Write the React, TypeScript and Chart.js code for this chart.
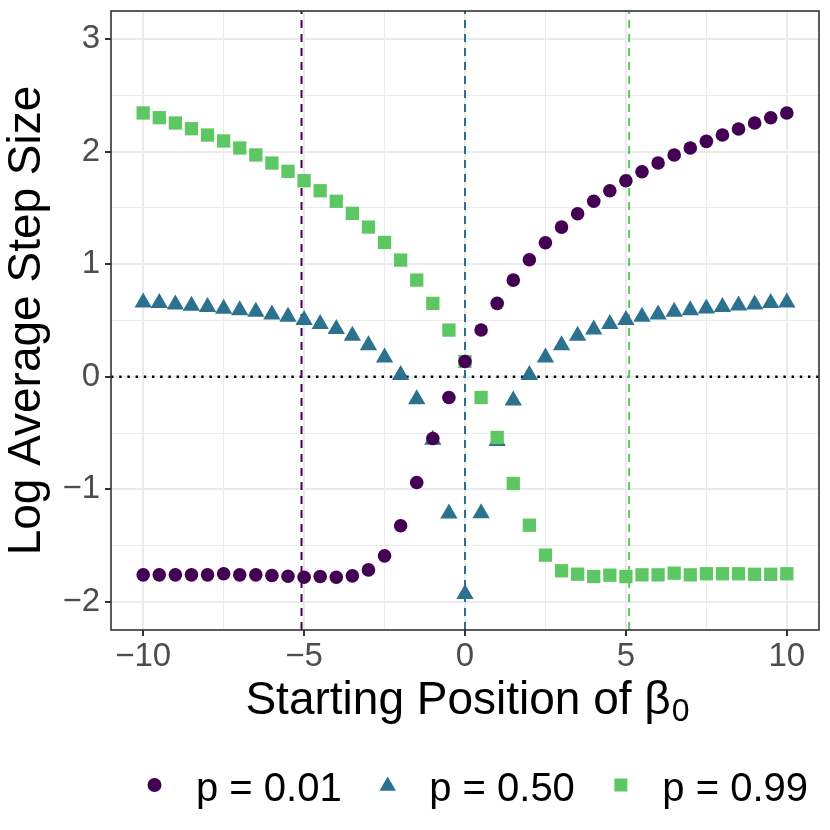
import React, { useEffect, useRef } from 'react';
import { Chart, registerables } from 'chart.js';

Chart.register(...registerables);

const xValues = [-10, -9.5, -9, -8.5, -8, -7.5, -7, -6.5, -6, -5.5, -5, -4.5, -4, -3.5, -3, -2.5, -2, -1.5, -1, -0.5, 0, 0.5, 1, 1.5, 2, 2.5, 3, 3.5, 4, 4.5, 5, 5.5, 6, 6.5, 7, 7.5, 8, 8.5, 9, 9.5, 10];

const p01 = [-1.76, -1.76, -1.76, -1.76, -1.76, -1.75, -1.76, -1.76, -1.766, -1.772, -1.781, -1.775, -1.781, -1.769, -1.716, -1.591, -1.324, -0.939, -0.548, -0.184, 0.136, 0.415, 0.652, 0.859, 1.04, 1.191, 1.33, 1.449, 1.559, 1.653, 1.742, 1.822, 1.899, 1.971, 2.033, 2.092, 2.148, 2.201, 2.255, 2.302, 2.344];

const p50 = [0.661, 0.655, 0.643, 0.631, 0.619, 0.604, 0.59, 0.578, 0.554, 0.533, 0.504, 0.468, 0.424, 0.364, 0.281, 0.172, 0.015, -0.2, -0.56, -1.215, -1.93, -1.212, -0.57, -0.21, 0.015, 0.172, 0.281, 0.364, 0.42, 0.468, 0.504, 0.533, 0.554, 0.578, 0.592, 0.606, 0.619, 0.634, 0.643, 0.655, 0.661];

const p99 = [2.344, 2.302, 2.255, 2.204, 2.148, 2.095, 2.033, 1.971, 1.899, 1.825, 1.742, 1.653, 1.559, 1.452, 1.33, 1.194, 1.037, 0.859, 0.652, 0.415, 0.136, -0.184, -0.539, -0.948, -1.319, -1.585, -1.724, -1.754, -1.775, -1.763, -1.775, -1.76, -1.76, -1.745, -1.76, -1.75, -1.75, -1.75, -1.755, -1.755, -1.75];

const seriesLabels = ['p = 0.01', 'p = 0.50', 'p = 0.99'];
const seriesColors = ['#440154', '#2C728E', '#5DC863'];
const seriesShapes = ['circle', 'triangle', 'rect'];
const vlinePositions = [-5.08, 0, 5.1];

const xTicks = [-10, -7.5, -5, -2.5, 0, 2.5, 5, 7.5, 10];
const xMajor = [-10, -5, 0, 5, 10];
const yTicks = [-2, -1.5, -1, -0.5, 0, 0.5, 1, 1.5, 2, 2.5, 3];
const yMajor = [-2, -1, 0, 1, 2, 3];

const xTitle = 'Starting Position of β';
const xTitleSub = '0';
const yTitle = 'Log Average Step Size';

const X_MIN = -11;
const X_MAX = 11;
const Y_MIN = -2.25;
const Y_MAX = 3.25;

const FONT = "'Liberation Sans', Arial, Helvetica, sans-serif";

const fmt = (v: number) => (v < 0 ? '\u2212' + Math.abs(v) : String(v));

const drawMarker = (ctx: CanvasRenderingContext2D, shape: string, x: number, y: number, color: string) => {
  ctx.save();
  ctx.fillStyle = color;
  ctx.beginPath();
  if (shape === 'circle') {
    ctx.arc(x, y, 7, 0, Math.PI * 2);
  } else if (shape === 'triangle') {
    const r = 9.5;
    ctx.moveTo(x, y - r);
    ctx.lineTo(x + r * Math.sin((2 * Math.PI) / 3), y - r * Math.cos((2 * Math.PI) / 3));
    ctx.lineTo(x + r * Math.sin((4 * Math.PI) / 3), y - r * Math.cos((4 * Math.PI) / 3));
    ctx.closePath();
  } else {
    ctx.rect(x - 6.5, y - 6.5, 13, 13);
  }
  ctx.fill();
  ctx.restore();
};

const decorPlugin = {
  id: 'decor',
  afterDraw(chart: any) {
    const { ctx, chartArea } = chart;
    const { left, top, right, bottom } = chartArea;
    ctx.save();
    // panel border
    ctx.strokeStyle = '#333333';
    ctx.lineWidth = 1.6;
    ctx.strokeRect(left, top, right - left, bottom - top);

    // x title with subscript
    ctx.fillStyle = '#000000';
    ctx.textBaseline = 'alphabetic';
    ctx.font = `46px ${FONT}`;
    const mainW = ctx.measureText(xTitle).width;
    ctx.font = `32px ${FONT}`;
    const subW = ctx.measureText(xTitleSub).width;
    const cx = (left + right) / 2 + 2;
    const startX = cx - (mainW + subW) / 2;
    ctx.font = `46px ${FONT}`;
    ctx.textAlign = 'left';
    ctx.fillText(xTitle, startX, 714);
    ctx.font = `32px ${FONT}`;
    ctx.fillText(xTitleSub, startX + mainW + 1, 721);

    // legend
    ctx.font = `40px ${FONT}`;
    let cursor = 154.5;
    seriesLabels.forEach((label, i) => {
      const my = seriesShapes[i] === 'triangle' ? 786 : 785;
      drawMarker(ctx, seriesShapes[i], cursor, my, seriesColors[i]);
      const tx = cursor + 41.5;
      ctx.fillStyle = '#000000';
      ctx.fillText(label, tx, 800.5);
      const w = ctx.measureText(label).width;
      cursor = tx + w + 46;
    });
    ctx.restore();
  },
};

export default function App() {
  const canvasRef = useRef<HTMLCanvasElement | null>(null);

  useEffect(() => {
    const canvas = canvasRef.current;
    if (!canvas) return;

    const pointSets = [p01, p50, p99].map((vals, i) => ({
      type: 'scatter' as const,
      label: seriesLabels[i],
      data: xValues.map((x, j) => ({ x, y: vals[j] })),
      pointStyle: seriesShapes[i],
      pointRadius: i === 0 ? 6.8 : i === 1 ? 10 : 9.4,
      pointHoverRadius: i === 0 ? 6.8 : i === 1 ? 10 : 9.4,
      backgroundColor: seriesColors[i],
      borderColor: seriesColors[i],
      pointBorderWidth: 0,
      borderWidth: 0,
      showLine: false,
      order: i === 0 ? 0 : i === 1 ? 2 : 1,
    }));

    const vlineSets = vlinePositions.map((v, i) => ({
      type: 'scatter' as const,
      label: 'vline' + i,
      data: [
        { x: v, y: Y_MIN },
        { x: v, y: Y_MAX },
      ],
      showLine: true,
      borderColor: seriesColors[i],
      backgroundColor: seriesColors[i],
      borderWidth: 2,
      borderDash: [8, 6],
      pointRadius: 0,
      pointHoverRadius: 0,
      order: 10,
    }));

    const hlineSet = {
      type: 'scatter' as const,
      label: 'hline',
      data: [
        { x: X_MIN, y: 0 },
        { x: X_MAX, y: 0 },
      ],
      showLine: true,
      borderColor: '#000000',
      backgroundColor: '#000000',
      borderWidth: 2.4,
      borderDash: [2.4, 5.8],
      pointRadius: 0,
      pointHoverRadius: 0,
      order: 10,
    };

    const chart = new Chart(canvas, {
      type: 'scatter',
      data: { datasets: [...pointSets, ...vlineSets, hlineSet] as any },
      options: {
        animation: false,
        responsive: true,
        maintainAspectRatio: false,
        events: [],
        layout: { padding: { top: 11, right: 11, bottom: 90, left: 0 } },
        plugins: {
          legend: { display: false },
          tooltip: { enabled: false },
        },
        scales: {
          x: {
            type: 'linear',
            min: X_MIN,
            max: X_MAX,
            afterBuildTicks: (scale: any) => {
              scale.ticks = xTicks.map((v) => ({ value: v }));
            },
            afterFit: (scale: any) => {
              scale.height = 110;
              scale.paddingLeft = 0;
              scale.paddingRight = 0;
            },
            ticks: {
              autoSkip: false,
              maxRotation: 0,
              padding: 1,
              color: '#4D4D4D',
              font: { family: FONT, size: 33 },
              callback: (v: any) => (xMajor.includes(Number(v)) ? fmt(Number(v)) : ''),
            },
            grid: {
              color: '#EBEBEB',
              lineWidth: (c: any) => (xMajor.includes(c.tick?.value) ? 2 : 1),
              drawTicks: true,
              tickLength: 6,
              tickWidth: 2,
              tickColor: (c: any) => (xMajor.includes(c.tick?.value) ? '#333333' : 'rgba(0,0,0,0)'),
            },
            border: { display: false },
            title: { display: false },
          },
          y: {
            type: 'linear',
            min: Y_MIN,
            max: Y_MAX,
            afterBuildTicks: (scale: any) => {
              scale.ticks = yTicks.map((v) => ({ value: v }));
            },
            afterFit: (scale: any) => {
              scale.width = 111;
              scale.paddingTop = 0;
              scale.paddingBottom = 0;
            },
            ticks: {
              autoSkip: false,
              padding: 5,
              color: '#4D4D4D',
              font: { family: FONT, size: 33 },
              callback: (v: any) => (yMajor.includes(Number(v)) ? fmt(Number(v)) : ''),
            },
            grid: {
              color: '#EBEBEB',
              lineWidth: (c: any) => (yMajor.includes(c.tick?.value) ? 2 : 1),
              drawTicks: true,
              tickLength: 6,
              tickWidth: 2,
              tickColor: (c: any) => (yMajor.includes(c.tick?.value) ? '#333333' : 'rgba(0,0,0,0)'),
            },
            border: { display: false },
            title: {
              display: true,
              text: yTitle,
              color: '#000000',
              font: { family: FONT, size: 46 },
              padding: { top: 0, bottom: 0 },
            },
          },
        },
      },
      plugins: [decorPlugin],
    });

    return () => {
      chart.destroy();
    };
  }, []);

  return (
    <div style={{ position: 'fixed', left: 0, top: 0, width: 830, height: 830, background: '#ffffff' }}>
      <canvas ref={canvasRef} />
    </div>
  );
}
